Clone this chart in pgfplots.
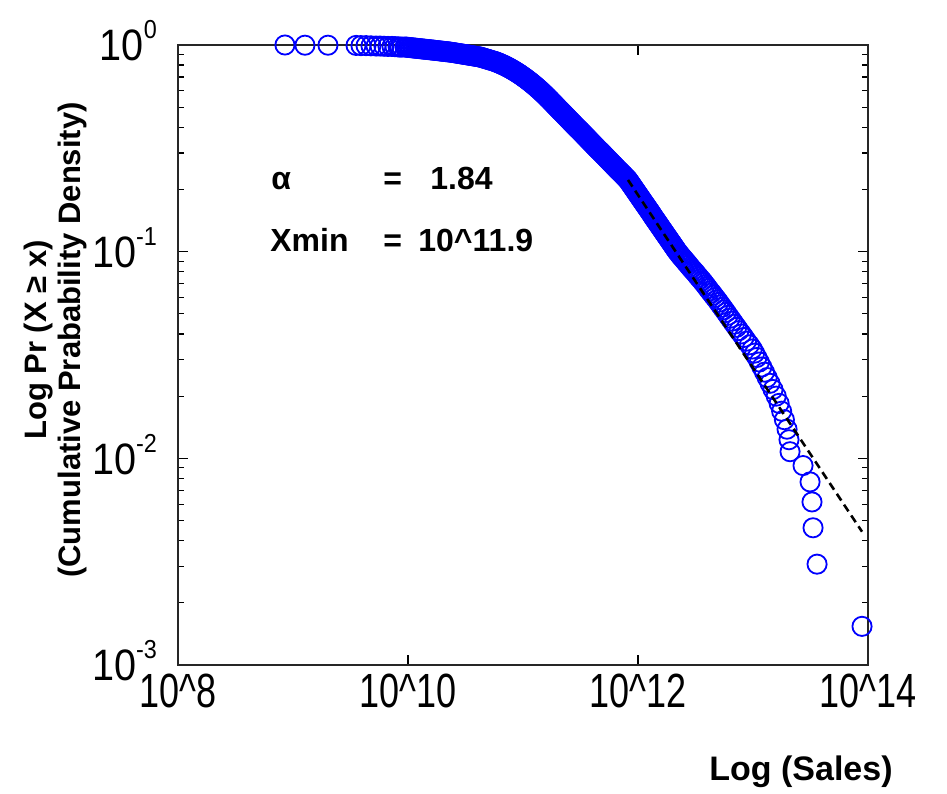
\documentclass[border=0pt]{standalone}
\usepackage{fontspec}
\setmainfont{Liberation Sans}
\usepackage{graphicx}
\usepackage{pgfplots}
\pgfplotsset{compat=1.18}
\newcommand{\xtl}[1]{\scalebox{0.75}[1]{\fontsize{24}{24}\selectfont 10\textasciicircum#1}}
\newcommand{\ytl}[1]{\scalebox{0.9}[1]{\fontsize{22}{22}\selectfont 10\raisebox{0.5em}{\fontsize{13}{13}\selectfont #1}}}
\begin{document}
\begin{tikzpicture}
\useasboundingbox (-89pt,-64pt) rectangle (384.5pt,332.5pt);
\begin{axis}[
  at={(0,0)}, anchor=south west,
  scale only axis, width=345pt, height=310pt,
  xmin=8, xmax=14, ymin=-3, ymax=0,
  clip=false,
  xtick={8,10,12,14},
  xticklabels={\xtl{8},\xtl{10},\xtl{12},\xtl{14}},
  ytick={-3,-2,-1,0},
  yticklabels={\ytl{-3},\ytl{-2},\ytl{-1},\ytl{0}},
  minor ytick={-2.699,-2.523,-2.398,-2.301,-2.222,-2.155,-2.097,-2.046,
               -1.699,-1.523,-1.398,-1.301,-1.222,-1.155,-1.097,-1.046,
               -0.699,-0.523,-0.398,-0.301,-0.222,-0.155,-0.097,-0.046},
  tick align=inside,
  major tick length=5pt, minor tick length=3pt,
  tick style={black, line width=0.6pt},
  axis line style={black!85, line width=1pt},
  xticklabel style={yshift=-1pt},
  yticklabel style={xshift=-7pt, yshift=2pt},
]
\addplot[only marks, mark=o, mark size=4.8pt, mark options={draw=blue, line width=0.9pt}] table {
8.930 0.000
9.104 -0.001
9.304 -0.001
9.548 -0.002
9.591 -0.003
9.635 -0.003
9.678 -0.004
9.722 -0.005
9.757 -0.005
9.791 -0.006
9.826 -0.007
9.861 -0.007
9.887 -0.008
9.913 -0.009
9.930 -0.010
9.948 -0.010
9.974 -0.0097
9.987 -0.0105
10.000 -0.0113
10.013 -0.0121
10.026 -0.0130
10.039 -0.0138
10.052 -0.0146
10.065 -0.0154
10.078 -0.0162
10.091 -0.0170
10.104 -0.0178
10.117 -0.0186
10.130 -0.0194
10.143 -0.0202
10.157 -0.0210
10.170 -0.0218
10.183 -0.0226
10.196 -0.0234
10.209 -0.0242
10.222 -0.0250
10.235 -0.0259
10.248 -0.0267
10.261 -0.0275
10.274 -0.0284
10.287 -0.0292
10.300 -0.0301
10.313 -0.0309
10.326 -0.0317
10.339 -0.0326
10.352 -0.0334
10.365 -0.0343
10.378 -0.0352
10.391 -0.0364
10.404 -0.0376
10.417 -0.0388
10.430 -0.0400
10.443 -0.0412
10.457 -0.0424
10.470 -0.0436
10.483 -0.0448
10.496 -0.0460
10.509 -0.0472
10.522 -0.0484
10.535 -0.0496
10.548 -0.0508
10.561 -0.0520
10.574 -0.0532
10.587 -0.0544
10.600 -0.0556
10.613 -0.0568
10.626 -0.0581
10.639 -0.0602
10.652 -0.0624
10.665 -0.0646
10.678 -0.0668
10.691 -0.0689
10.704 -0.0711
10.717 -0.0733
10.730 -0.0755
10.743 -0.0776
10.757 -0.0798
10.765 -0.0818
10.774 -0.0837
10.783 -0.0856
10.791 -0.0876
10.800 -0.0895
10.809 -0.0917
10.817 -0.0940
10.826 -0.0962
10.835 -0.0984
10.843 -0.1006
10.852 -0.1031
10.861 -0.1057
10.870 -0.1082
10.878 -0.1107
10.887 -0.1132
10.896 -0.1160
10.904 -0.1188
10.913 -0.1216
10.922 -0.1244
10.930 -0.1272
10.939 -0.1303
10.948 -0.1334
10.957 -0.1365
10.965 -0.1396
10.974 -0.1427
10.983 -0.1461
10.991 -0.1495
11.000 -0.1529
11.009 -0.1563
11.017 -0.1597
11.026 -0.1633
11.035 -0.1670
11.043 -0.1707
11.052 -0.1744
11.061 -0.1780
11.070 -0.1820
11.078 -0.1860
11.087 -0.1899
11.096 -0.1939
11.104 -0.1979
11.113 -0.2021
11.122 -0.2064
11.130 -0.2106
11.139 -0.2149
11.148 -0.2192
11.157 -0.2237
11.165 -0.2283
11.174 -0.2328
11.183 -0.2373
11.191 -0.2419
11.200 -0.2467
11.209 -0.2516
11.217 -0.2564
11.226 -0.2612
11.235 -0.2661
11.243 -0.2711
11.252 -0.2761
11.261 -0.2812
11.270 -0.2862
11.278 -0.2912
11.287 -0.2963
11.296 -0.3013
11.304 -0.3063
11.313 -0.3114
11.322 -0.3164
11.330 -0.321
11.339 -0.326
11.348 -0.331
11.357 -0.336
11.365 -0.341
11.374 -0.346
11.383 -0.351
11.391 -0.356
11.400 -0.361
11.409 -0.366
11.417 -0.371
11.426 -0.376
11.435 -0.381
11.443 -0.386
11.452 -0.391
11.461 -0.396
11.470 -0.401
11.478 -0.406
11.487 -0.410
11.496 -0.415
11.504 -0.420
11.513 -0.425
11.522 -0.430
11.530 -0.435
11.539 -0.440
11.548 -0.445
11.557 -0.450
11.565 -0.455
11.574 -0.460
11.583 -0.465
11.591 -0.470
11.600 -0.475
11.609 -0.480
11.617 -0.485
11.626 -0.490
11.635 -0.495
11.643 -0.500
11.652 -0.505
11.661 -0.510
11.670 -0.514
11.678 -0.519
11.687 -0.524
11.696 -0.529
11.704 -0.534
11.713 -0.539
11.722 -0.544
11.730 -0.549
11.739 -0.554
11.748 -0.559
11.757 -0.564
11.765 -0.569
11.774 -0.574
11.783 -0.579
11.791 -0.584
11.800 -0.589
11.809 -0.594
11.817 -0.599
11.826 -0.604
11.835 -0.609
11.843 -0.613
11.852 -0.618
11.861 -0.623
11.870 -0.628
11.878 -0.633
11.887 -0.638
11.896 -0.643
11.904 -0.648
11.913 -0.653
11.922 -0.660
11.930 -0.667
11.939 -0.674
11.948 -0.681
11.957 -0.688
11.965 -0.695
11.974 -0.702
11.983 -0.709
11.991 -0.716
12.000 -0.723
12.009 -0.730
12.017 -0.737
12.026 -0.744
12.035 -0.751
12.043 -0.758
12.052 -0.765
12.061 -0.772
12.070 -0.779
12.078 -0.786
12.087 -0.793
12.096 -0.800
12.104 -0.807
12.113 -0.814
12.122 -0.821
12.130 -0.829
12.139 -0.836
12.148 -0.843
12.157 -0.850
12.165 -0.857
12.174 -0.864
12.183 -0.871
12.191 -0.878
12.200 -0.885
12.209 -0.892
12.217 -0.899
12.226 -0.906
12.235 -0.913
12.243 -0.920
12.252 -0.927
12.261 -0.934
12.270 -0.941
12.278 -0.948
12.287 -0.955
12.296 -0.962
12.304 -0.969
12.313 -0.976
12.322 -0.983
12.330 -0.990
12.339 -0.997
12.353 -1.007
12.363 -1.014
12.373 -1.021
12.384 -1.028
12.395 -1.035
12.406 -1.042
12.417 -1.050
12.429 -1.057
12.440 -1.065
12.452 -1.073
12.464 -1.081
12.477 -1.089
12.490 -1.097
12.503 -1.105
12.515 -1.114
12.529 -1.123
12.543 -1.132
12.557 -1.141
12.570 -1.150
12.584 -1.160
12.597 -1.169
12.610 -1.179
12.625 -1.190
12.640 -1.200
12.655 -1.211
12.670 -1.222
12.686 -1.233
12.702 -1.245
12.717 -1.257
12.733 -1.269
12.749 -1.281
12.766 -1.294
12.783 -1.308
12.801 -1.322
12.819 -1.336
12.838 -1.351
12.858 -1.366
12.878 -1.382
12.900 -1.398
12.922 -1.415
12.944 -1.433
12.969 -1.451
12.994 -1.471
13.014 -1.491
13.034 -1.512
13.055 -1.534
13.077 -1.558
13.100 -1.583
13.123 -1.609
13.148 -1.637
13.174 -1.667
13.202 -1.699
13.227 -1.734
13.249 -1.772
13.273 -1.813
13.296 -1.859
13.313 -1.910
13.322 -1.968
13.435 -2.035
13.496 -2.114
13.513 -2.211
13.522 -2.336
13.557 -2.512
13.948 -2.813
};
\tikzset{lbl/.style={anchor=base west, inner sep=0pt, font=\bfseries\fontsize{16}{16}\selectfont}}
\node[lbl] at (axis cs:8.809,-0.7015) {α};
\node[lbl] at (axis cs:9.783,-0.7015) {=};
\node[lbl] at (axis cs:10.191,-0.7015) {1.84};
\node[lbl] at (axis cs:8.800,-1.0015) {Xmin};
\node[lbl] at (axis cs:9.783,-1.0015) {=};
\node[lbl] at (axis cs:10.087,-1.0015) {10\textasciicircum 11.9};
\end{axis}
\begin{axis}[
  at={(0,0)}, anchor=south west,
  scale only axis, width=345pt, height=310pt,
  xmin=8, xmax=14, ymin=-3, ymax=0,
  axis lines=none, ticks=none,
]
\addplot[black, line width=1.3pt, dash pattern=on 4pt off 2.5pt] coordinates {(11.913,-0.653) (13.948,-2.355)};
\end{axis}
\node[rotate=90, align=center, font=\bfseries\fontsize{15.5}{17}\selectfont] at (-61.5pt,162.5pt) {Log Pr (X ≥ x)\\(Cumulative Prabability Density)};
\node[font=\bfseries\fontsize{17}{17}\selectfont] at (311.5pt,-53.5pt) {Log (Sales)};
\end{tikzpicture}
\end{document}
